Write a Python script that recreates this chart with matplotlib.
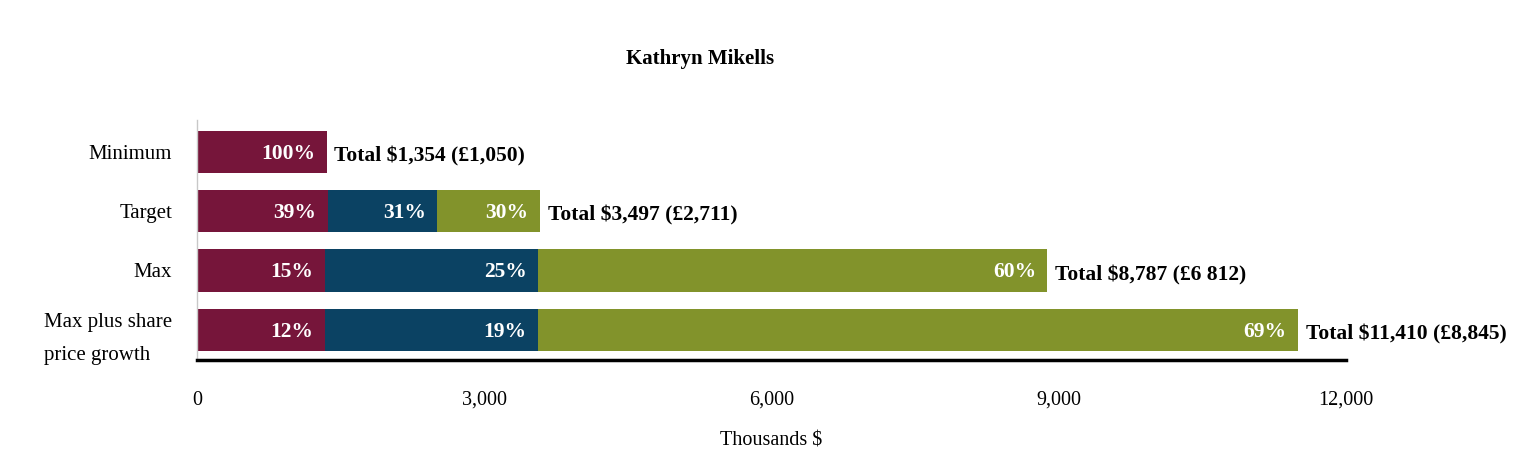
import matplotlib.pyplot as plt
import numpy as np

plt.rcParams['font.family'] = ['Liberation Serif', 'DejaVu Serif']

# data (thousands $), segments
scenarios = ['Minimum', 'Target', 'Max', 'Max plus share\nprice growth']
fixed = [1354, 1368, 1337, 1337]
annual = [0, 1139, 2225, 2225]
ltip = [0, 1076, 5318, 7937]
pct_fixed = ['100%', '39%', '15%', '12%']
pct_annual = ['', '31%', '25%', '19%']
pct_ltip = ['', '30%', '60%', '69%']
totals = ['Total $1,354 (£1,050)', 'Total $3,497 (£2,711)',
          'Total $8,787 (£6 812)', 'Total $11,410 (£8,845)']

colors = ['#76153a', '#0b4263', '#82932b']

fig = plt.figure(figsize=(15.18, 4.70), dpi=100)
ax = fig.add_axes([0.1298, 0.234, 0.757, 0.511])

y = np.arange(len(scenarios))
h = 0.71
left = np.zeros(len(scenarios))
for vals, labs, c in zip([fixed, annual, ltip], [pct_fixed, pct_annual, pct_ltip], colors):
    vals = np.array(vals, dtype=float)
    ax.barh(y, vals, left=left, height=h, color=c, edgecolor='none')
    for i, (v, lab) in enumerate(zip(vals, labs)):
        if v > 0 and lab:
            ax.text(left[i] + v - 120, y[i] + 0.03, lab, ha='right', va='center',
                    color='white', fontsize=15.5, fontweight='bold')
    left = left + vals

for i, t in enumerate(totals):
    ax.text(left[i] + 80, y[i] + 0.08, t, ha='left', va='center',
            color='black', fontsize=15.5, fontweight='bold')

ax.set_xlim(0, 12000)
ax.set_ylim(3.51, -0.54)
ax.set_xticks([0, 3000, 6000, 9000, 12000])
ax.set_xticklabels(['0', '3,000', '6,000', '9,000', '12,000'], fontsize=14.5)
ax.set_yticks(y)
ax.set_yticklabels(scenarios, fontsize=15, linespacing=1.95)
for t in ax.get_yticklabels():
    t.set_multialignment('left')
ax.tick_params(axis='x', length=0, pad=22)
ax.tick_params(axis='y', length=0, pad=18)
ax.set_xlabel('Thousands $', fontsize=14.5, labelpad=16)

for s in ['top', 'right']:
    ax.spines[s].set_visible(False)
ax.spines['left'].set_color('#c8c8c8')
ax.spines['left'].set_linewidth(1)
ax.spines['bottom'].set_color('black')
ax.spines['bottom'].set_linewidth(2.5)

fig.text(0.461, 0.875, 'Kathryn Mikells', ha='center', va='center',
         fontsize=15, fontweight='bold')

fig.savefig('out.png', dpi=100)
